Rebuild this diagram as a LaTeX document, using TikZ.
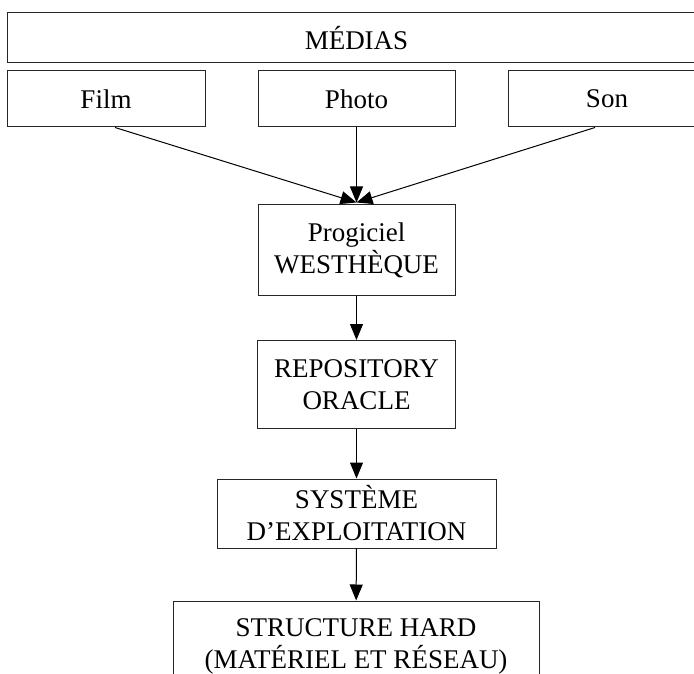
\documentclass[tikz,border=0pt]{standalone}
\usepackage{fontspec}
\setmainfont{Liberation Serif}
\usetikzlibrary{arrows.meta}
\begin{document}
\begin{tikzpicture}[x=1pt,y=-1pt,
  bloc/.style={draw=black!85,line width=1pt,align=center,inner sep=0pt,
    font=\fontsize{27}{32}\selectfont},
  fleche/.style={-{Triangle[length=16pt,width=13pt]},line width=1pt}]
\useasboundingbox (0,0) rectangle (694,674);
\node[bloc,minimum width=699,minimum height=50] (medias) at (356.5,38) {MÉDIAS};
\node[bloc,minimum width=198,minimum height=56] (film) at (106,99) {Film};
\node[bloc,minimum width=197,minimum height=56] (photo) at (356.5,99) {Photo};
\node[bloc,minimum width=198,minimum height=56] (son) at (607,99) {Son};
\node[bloc,minimum width=197,minimum height=90] (progiciel) at (356.5,250) {Progiciel\\WESTHÈQUE};
\node[bloc,minimum width=198,minimum height=88] (repository) at (356.5,384.5) {REPOSITORY\\ORACLE};
\node[bloc,minimum width=279,minimum height=69] (systeme) at (356.5,513.5) {SYSTÈME\\D’EXPLOITATION};
\node[bloc,minimum width=366,minimum height=90] (structure) at (356,646) {STRUCTURE HARD\\(MATÉRIEL ET RÉSEAU)};
\draw[fleche] ([xshift=9pt]film.south) -- ([yshift=2pt]progiciel.north);
\draw[fleche] (photo.south) -- ([yshift=2pt]progiciel.north);
\draw[fleche] ([xshift=-12pt]son.south) -- ([yshift=2pt]progiciel.north);
\draw[fleche] (progiciel) -- (repository);
\draw[fleche] (repository) -- (systeme);
\draw[fleche] (systeme) -- (structure);
\end{tikzpicture}
\end{document}
